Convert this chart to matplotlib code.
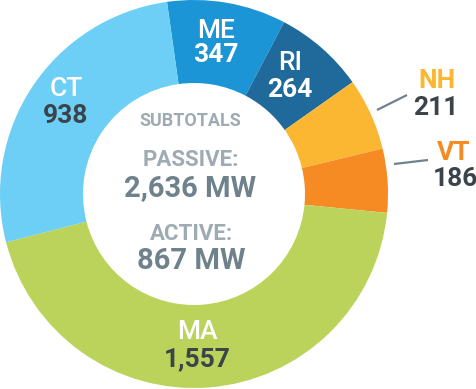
import matplotlib
matplotlib.use("Agg")
import matplotlib.pyplot as plt

plt.rcParams['font.family'] = ['Roboto', 'DejaVu Sans']

# data
states = ["ME", "RI", "NH", "VT", "MA", "CT"]
mw = [347, 264, 211, 186, 1557, 938]
value_text = ["347", "264", "211", "186", "1,557", "938"]
passive_mw = 2636
active_mw = 867

colors = ["#1b95d5", "#1f6a9a", "#fbb632", "#f68b23", "#bbd35a", "#6dcff6"]
name_colors = ["white", "white", "#fbb632", "#f68b23", "white", "white"]
val_colors = ["white", "white", "#3b444b", "#3b444b", "#3b444b", "#3b444b"]

H = 389
def fy(y):
    return H - y

# label positions in pixels (name center, value center)
name_pos = [(216, 31), (290, 63), (437, 81), (454, 153), (197, 332), (66, 89)]
val_pos = [(216, 55), (290, 90), (436, 108), (455, 179), (197, 359), (66, 116)]
leaders = {2: ((377, 110), (407, 95)), 3: ((394, 164), (428, 160))}

fig = plt.figure(figsize=(4.77, 3.89), dpi=100)
ax = fig.add_axes([0, 0, 1, 1])
ax.pie(mw, colors=colors, startangle=98, counterclock=False,
       radius=194, center=(194, fy(194)),
       wedgeprops=dict(width=83, edgecolor='none', linewidth=0))
ax.set_xlim(0, 477)
ax.set_ylim(0, H)
ax.set_aspect('equal')
ax.axis('off')

for i in range(len(states)):
    nx, ny = name_pos[i]
    vx, vy = val_pos[i]
    ax.text(nx, fy(ny), states[i], ha='center', va='center', fontsize=19,
            fontweight='bold' if i in (2, 3) else 'medium', color=name_colors[i])
    ax.text(vx, fy(vy), value_text[i], ha='center', va='center', fontsize=19,
            fontweight='bold', color=val_colors[i])

for i, (p0, p1) in leaders.items():
    ax.plot([p0[0], p1[0]], [fy(p0[1]), fy(p1[1])], color="#6f828c", lw=1.6,
            solid_capstyle='butt')

light = "#9eabb3"
dark = "#6f828c"
ax.text(190, fy(121), "SUBTOTALS", ha='center', va='center', fontsize=13,
        fontweight='bold', color=light)
ax.text(191, fy(160), "PASSIVE:", ha='center', va='center', fontsize=16,
        fontweight='bold', color=light)
ax.text(190, fy(188), f"{passive_mw:,} MW", ha='center', va='center', fontsize=21,
        fontweight='bold', color=dark)
ax.text(191, fy(234), "ACTIVE:", ha='center', va='center', fontsize=16,
        fontweight='bold', color=light)
ax.text(191, fy(261), f"{active_mw:,} MW", ha='center', va='center', fontsize=21,
        fontweight='bold', color=dark)

fig.savefig("out.png", dpi=100)
